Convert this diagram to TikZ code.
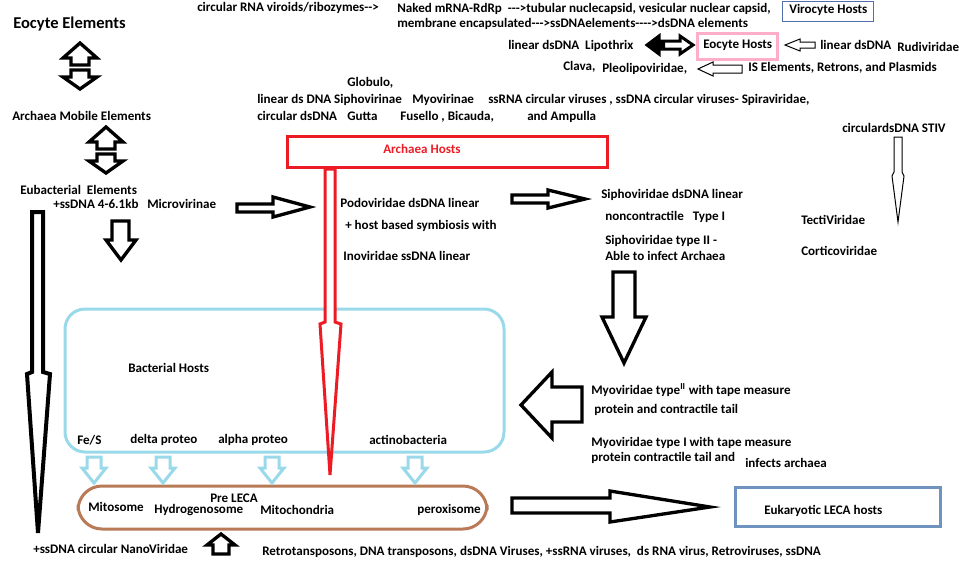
\documentclass[tikz,border=0pt]{standalone}
\usepackage{fontspec}
\setmainfont{Carlito}[Ligatures=TeXOff]
\definecolor{paintred}{RGB}{237,28,36}
\definecolor{paintsky}{RGB}{153,217,234}
\definecolor{paintbrown}{RGB}{185,122,87}
\definecolor{paintslate}{RGB}{112,146,190}
\definecolor{paintpink}{RGB}{255,174,201}
\definecolor{paintnavy}{RGB}{80,110,170}
\begin{document}
\begin{tikzpicture}[x=0.75pt,y=-0.75pt,
    lbl/.style={anchor=west,inner sep=0pt,font=\bfseries\fontsize{9.8}{11}\selectfont},
    big/.style={lbl,font=\bfseries\fontsize{12.4}{14}\selectfont},
    blk/.style={draw=black,line width=2.5pt,fill=white,line join=miter},
    outl/.style={draw=black,line width=0.75pt,fill=white},
    hostbox/.style={line width=2.25pt},
    updown/.pic={
        \draw[blk](0,-23)--(17,-8)--(9,-8)--(9,-1)--(-9,-1)--(-9,-8)--(-17,-8)--cycle;
        \draw[blk](-9,4)--(9,4)--(9,11)--(17,11)--(0,23)--(-17,11)--(-9,11)--cycle;
    },
    skydown/.pic={
        \draw[draw=paintsky,line width=2.25pt,fill=white](-7,0)--(7,0)--(7,11)--(12,11)--(0,26)--(-12,11)--(-7,11)--cycle;
    }]
    \useasboundingbox (0,0) rectangle (959,586);

    % boxes
    \draw[hostbox,paintsky,rounded corners=15](65,309) rectangle (504,452);
    \draw[hostbox,paintbrown,rounded corners=18](78,486) rectangle (487,529);
    \draw[hostbox,paintred](287,136) rectangle (607,167);
    \draw[hostbox,paintpink](697,33) rectangle (777,59);
    \draw[hostbox,paintslate](735,487) rectangle (940,526);
    \draw[paintnavy,line width=0.75pt](782,1) rectangle (873,21);

    % left column
    \node[big](eocyteel)at(13,24){Eocyte Elements};
    \pic at(80,66){updown};
    \node[lbl](archaeamob)at(12,116){Archaea Mobile Elements};
    \pic at(106,150){updown};
    \node[lbl](eubact)at(20,190){Eubacterial\ \ Elements};
    \node[lbl](ssdna)at(53,204){+ssDNA 4-6.1kb};
    \node[lbl](microvir)at(147,204){Microvirinae};
    \draw[blk](112,221)--(129,221)--(129,240)--(136,240)--(121,260)--(106,240)--(112,240)--cycle;
    \draw[blk,line width=3pt](32,212)--(43,212)--(43,372)--(50,374)--(38,533)--(27,374)--(32,372)--cycle;
    \draw[blk](237,204)--(273,204)--(273,197)--(310,207)--(273,217)--(273,212)--(237,212)--cycle;

    % top row
    \node[lbl](viroids)at(197,8){circular RNA viroids/ribozymes-->};
    \node[lbl](naked)at(397,9){Naked mRNA-RdRp\ \ --->tubular nuclecapsid, vesicular nuclear capsid,};
    \node[lbl](membrane)at(397,24){membrane encapsulated--->ssDNAelements---->dsDNA elements};
    \node[lbl](virocyte)at(789,10){Virocyte Hosts};
    \node[lbl](lipothrix)at(508,46){linear dsDNA\ \ Lipothrix};
    \node[lbl](eocytehost)at(703,45){Eocyte Hosts};
    \node[lbl](rudilin)at(820,45){linear dsDNA};
    \node[lbl](rudi)at(897,47){Rudiviridae};
    \node[lbl](clava)at(563,67){Clava,};
    \node[lbl](pleolipo)at(602,69){Pleolipoviridae,};
    \node[lbl](iselem)at(748,68){IS Elements, Retrons, and Plasmids};
    \draw[blk,line width=2.25pt](647,45)--(659,36)--(659,41)--(680,41)--(680,36)--(693,45)--(680,54)--(680,49)--(659,49)--(659,54)--cycle;
    \fill[black](647,45)--(659,36)--(659,41)--(665,41)--(665,49)--(659,49)--(659,54)--cycle;
    \draw[outl](785,45)--(800,39)--(800,42)--(815,42)--(815,48)--(800,48)--(800,51)--cycle;
    \draw[outl](698,69)--(713,62)--(713,65)--(742,65)--(742,73)--(713,73)--(713,76)--cycle;

    \node[lbl](globulo)at(347,83){Globulo,};
    \node[lbl](siphovirinae)at(257,100){linear ds DNA Siphovirinae};
    \node[lbl](myovirinae)at(412,100){Myovirinae};
    \node[lbl](spira)at(488,100){ssRNA circular viruses , ssDNA circular viruses- Spiraviridae,};
    \node[lbl](circds)at(257,116){circular dsDNA};
    \node[lbl](gutta)at(347,116){Gutta};
    \node[lbl](fusello)at(400,117){Fusello , Bicauda,};
    \node[lbl](ampulla)at(527,117){and Ampulla};
    \node[lbl](stiv)at(842,128){circulardsDNA STIV};
    \draw[outl](894,137)--(902,137)--(902,172)--(904,176)--(898,222)--(892,176)--(894,172)--cycle;

    % archaea
    \node[lbl,text=paintred](archaeahost)at(383,149){Archaea Hosts};
    \node[lbl](podo)at(340,203){Podoviridae dsDNA linear};
    \node[lbl](symb)at(345,226){+ host based symbiosis with};
    \node[lbl](ino)at(343,256){Inoviridae ssDNA linear};
    \draw[blk](512,195)--(548,195)--(548,190)--(585,199)--(548,208)--(548,203)--(512,203)--cycle;
    \node[lbl](sipho)at(601,195){Siphoviridae dsDNA linear};
    \node[lbl](noncon)at(605,217){noncontractile\ \ \ Type I};
    \node[lbl](siphoII)at(605,241){Siphoviridae type II -};
    \node[lbl](able)at(605,256){Able to infect Archaea};
    \node[lbl](tecti)at(801,220){TectiViridae};
    \node[lbl](cortico)at(801,251){Corticoviridae};
    \draw[blk](613,272)--(635,272)--(635,317)--(646,317)--(624,363)--(602,317)--(613,317)--cycle;
    \draw[blk](582,387)--(552,387)--(552,372)--(521,405)--(552,438)--(552,422)--(582,422)--cycle;
    \node[lbl](myoII)at(591,390){Myoviridae type\textsuperscript{II} with tape measure};
    \node[lbl](myoIIb)at(594,410){protein and contractile tail};
    \node[lbl](myoI)at(591,443){Myoviridae type I with tape measure};
    \node[lbl](myoIb)at(591,458){protein contractile tail and};
    \node[lbl](infects)at(745,463){infects archaea};
    \draw[paintred,line width=2.25pt,fill=white](325,169)--(335,169)--(335,322)--(341,324)--(330,475)--(320,324)--(325,322)--cycle;

    % bacteria
    \node[lbl](bacthost)at(128,368){Bacterial Hosts};
    \node[lbl](fes)at(77,440){Fe/S};
    \node[lbl](delta)at(130,440){delta proteo};
    \node[lbl](alpha)at(218,440){alpha proteo};
    \node[lbl](actino)at(369,440){actinobacteria};
    \pic at(94,457){skydown};
    \pic at(163,457){skydown};
    \pic at(272,457){skydown};
    \pic at(415,457){skydown};
    \node[lbl](preleca)at(210,498){Pre LECA};
    \node[lbl](mitosome)at(88,507){Mitosome};
    \node[lbl](hydro)at(154,510){Hydrogenosome};
    \node[lbl](mito)at(260,510){Mitochondria};
    \node[lbl](perox)at(417,510){peroxisome};
    \draw[blk](512,498)--(610,498)--(610,491)--(710,507)--(610,522)--(610,513)--(512,513)--cycle;
    \node[lbl](leca)at(764,511){Eukaryotic LECA hosts};
    \node[lbl](nano)at(33,549){+ssDNA circular NanoViridae};
    \draw[blk](221,534)--(235,545)--(229,545)--(229,554)--(213,554)--(213,545)--(207,545)--cycle;
    \node[lbl](retro)at(262,552){Retrotansposons, DNA transposons, dsDNA Viruses, +ssRNA viruses,\ \ ds RNA virus, Retroviruses, ssDNA};
\end{tikzpicture}
\end{document}
